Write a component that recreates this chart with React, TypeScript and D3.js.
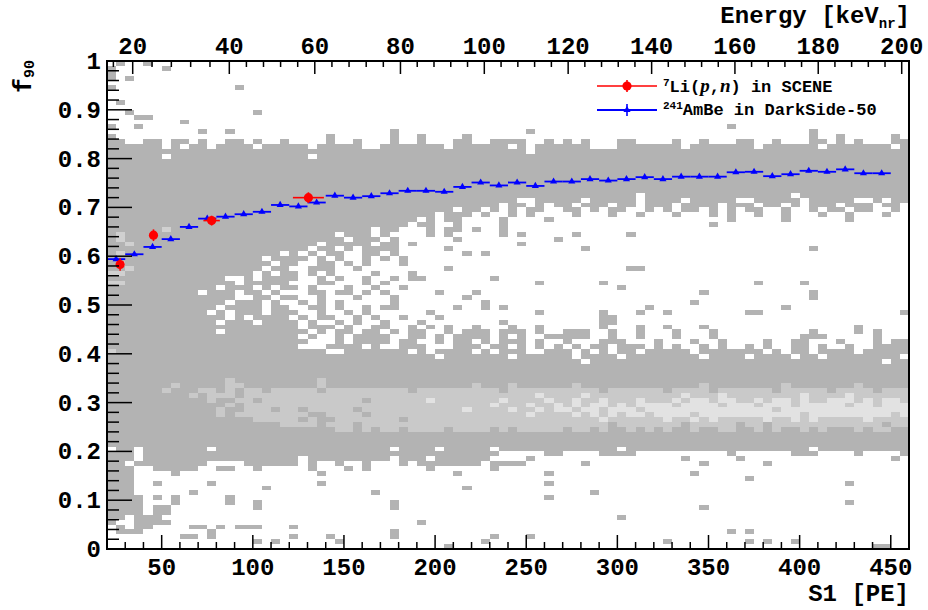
import React from 'react';
import * as d3 from 'd3';

// 2D histogram: S1 bins of 5 PE from 20 to 460 (88 columns), f90 bins of 0.01 (100 rows).
// Rows listed from top (f90 0.99-1.00) to bottom (0.00-0.01); groups of 10 columns separated by spaces.
// '.' empty, '#' dark gray, '+' medium gray, '-' light gray, 'o' pale cell
const histRows: string[] = [
  ".#..#",
  "#.....#",
  "#",
  "#.#",
  "",
  "#......... ....#",
  "",
  "",
  ".#",
  "",
  "..#....... ......#",
  "...##",
  "........#",
  "#..#...... .......... .......... .......... .......... .......... ........#",
  ".......... #..#...... .......... .#........ ......#... .......... .......... .......#",
  "#......... .......... ....#..... .#..#....# .......... .......... .......... .......#.. #.....#",
  "##..##.##. #..##.#..# ....#..#.. .#..#...## ..####..#. #.#...##.. ..#..#...# #..#...##. #.#...##",
  "######.#.# #.####.### ##.#####.. #######.## ####.#.### ###...#### ###.###### #.######.# ######.#",
  "########## ########## ########## ########## ######.### ########## ########## ########## ########",
  "######.### ########## ##.####### ########## ########## ########## ########## ########## ########",
  "########## ########## ########## ########## ########## ########## ########## ########## ########",
  "########## ########## ########## ########## ########## ########## ########## ########## ########",
  "########## ########## ########## ########## ########## ########## ########## ########## ########",
  "########## ########## ########## ########## ########## ########## ########## ########## ########",
  "########## ########## ########## ########## ########## ########## ########## ########## ########",
  "########## ########## ########## ########## ########## ########## ########## ########## ########",
  "########## ########## ########## ########## ########## ########## ########## ########## ########",
  "########## ########## ########## ########## ########## ########.# ########## #####.#### ########",
  "########## ########## ########## ########## #####..### ##.#####.# ###.#####. .#####.### ##..#.##",
  "########## ########## ########## ########## ###.##.#.# #.###.##.# ##.####.## #.##.#.### .###.##.",
  "########## ########## ########## ########.# #.#.#.##.. ##.#.##..# .#.##.#.#. ##..#..#.# #.##..#.",
  "########## ########## ########## ######.### .#..#.#... .#...#..#. ..#...#.#. .#..#...#. .#...#..",
  "########## ########## ########## ####.#.##. ...#....#. .......... ........#. ....#..... .#......",
  "########## ########## ########## ###.##..#. ...#...... .......... ......#... .......... ........",
  "######o### ########## #########. ##...#.##. #..#...... .......... .......... .......... ........",
  "#o######## ########## #####.###. #....#.#.. ...#.#.... .#.....#.. .......... .......... ........",
  "#o######## ########## ######.### .#......#. .........# .......... .......... .......... ........",
  "##o####### ########## ###.#####. ##.#...... .....#.... .......... .......... .......... ........",
  "########## ########## ##.##.#.## ##.....#.. .......... ..#....... .......... .......#.. ........",
  "#o######## #########. #.#.##..## .#.......# .#........ .......... .......... .......... ........",
  "########## #######.## ##.#.#..#. #.#....... .......... .......... .......... .......... ........",
  "#o######## ########.# #..##.#.#. ..#....... .......... .......... .......... .......... ........",
  "##o####### #######.## ..###..#.. .......#.. .......... .......##. .......... .......... ........",
  "oo######## ######.#.# #.#.#....# ...#...... .......... .......... .......... .......... ........",
  "########## ###..#.### #..#.#..#. .#.##..... ..#....... .......... .......... .......... ........",
  "oo######## ####.##### ...##...#. #......... .......#.. ....#..... .......... .#....#... ........",
  "########## ##.###.#.# #.#...#..# ..#....... .......... ......#... .......... .......... ........",
  "########## .###.##.#. ..##.##.#. #.....#... #......... .......... .....#.... .......#.. ........",
  "########## ####..##.# #..#...#.. .#.......# .......... .......... .......... .......#.. ........",
  "########## ###.###.#. .#.#.#.... .#........ .#........ .......... ....#..... .......... ........",
  "########## ##.####.## ..##.#..#. ##......#. .#.#...... .........# .......... ....#..... ........",
  "########## #.#.###.## #..#..#.#. .....#.... .......#.. ....#...#. .#........ ##........ .......#",
  "########## ###.#.#### .#.##..#.# ..#...#... .......... ....##.... .......... .......... ........",
  "########## ##.###.### #.#..#.#.. #...#..... ...#...... ....##.... .......... .......... ........",
  "########## ########## #.###.#..# #..#.#.#.. #...#..#.. ....#...#. .#...#.... .......... ..#.....",
  "########## ##.####### ##.#.##.## .#.##..#.# ##.###.#.. ###..#..#. ..#...#... .......#.. ..#.#...",
  "########## ########## #.#..#.### #..##.#.## ##.#.#..## ###..#..#. ..#...#... ......###. ....#...",
  "########## ########## ##...#.### #.##..#.## .#.###.#.. #...###... #...#..#.. ..#..##... #...#.##",
  "########## ########## #...####.# ..###...## #.##.#.#.# .#.##.###. #.#..#.#.. #.#..##.#. .#..####",
  "o######### ########## ####..#### ###.#.#### .#.###..## #.#.#.##.# ####.##### ##.#.##.## ##.#####",
  "########## ########## ########## ######.### ####.##### #.####.### #####.#### .####.##.# #######.",
  "########## ########## ########## ########## ########## ##.####### ########## ########## #####.##",
  "########## ########## ########## ########## ########## ########## ########## ########## ########",
  "########## ########## ########## ########## ########## ########## ########## ########## ########",
  "########## ########## ########## ########## ########## ########## ########## ########## ########",
  "########## ###+###### ###+###### ########## ########## ########## ########## ########## ########",
  "#######+## ###++##### ###+###### ########## +###+##### #+######## #####+#### ####+##### ##+#####",
  "######+### ++#+#++#++ +++#++++++ +++#++++++ +++#++++++ ++++#+++++ +#++++#+++ +++#+++++# ++++#+++",
  "#########+ #+++#+++++ ++++++++++ ++++++++++ +++++++-++ ++-+++++++ +++-+++-++ ++++++-+++ +-++++++",
  "########## #+##++#+++ ++++++++#+ +++++-++++ +++-++++-+ +-++-+++-+ ++-+--+--+ +-+--+-++- --+-+--+",
  "########## ###+#+++++ ++++++++++ ++++++++++ ++-+++-++- +-+--+-+-- --+----+-- -+---+---- -+--+---",
  "########## ##+##+++#+ +#+++++#++ +++++++++- ++++-++-+- -+--+---+- ---------- ---+------ --------",
  "########## ##+#++++++ ++##++++#+ ++++++++++ ++++++-+++ +-+-+-+--+ ----+----- ------+--- ------+-",
  "########## ######++++ +#+##+++++ ++#+++++++ ++++++++++ ++++-+++++ +-++-+-+++ ++-++-+-++ +++-++++",
  "########## #########+ +++#+++#++ ++++++++++ ++++++++++ +++++#++++ +++#+++++# ++#+++++++ +++++#++",
  "########## ########## #####++#+# ++#++++#++ ++#+#+++++ #++#+##+#+ #+##+##++# #+#+##+#+# ##+#++##",
  "########## ########## ########## ########## ########## ########## ########## ########## ########",
  "########## ########## ########## ########## ########## ########## ########## ########## ########",
  "########## ########## ########## ########## ########## ########## ########## ########## ########",
  ".##.###### #.######## ########## #.####.### ##.####### ######.### ########## #######.## ########",
  "###.###### ########## ########## ########## ###.....## ....####.. ........#. .....###.. ..#....#",
  "###.###### ########## #.######## #.###.#### ##....#... .......... ...#.....# .......... ......#.",
  "##.####### #....##### #.#..#..#. ..#.###### #.####.... ..#....... .....#.... ..#....... ........",
  "###..##### ..##..#... ..#...#.#. .....#.... ..#....... .......... .......... .......... ........",
  "###....#.. .......... ...#...... ........#. ........#. .......... ....#..... .......... ........",
  "###....... .......... .......... .......... .......... .......... .......... #......... ........",
  "###..#.... .#........ ...#...... .......... ........#. .......... .......... .......... .#......",
  "###....... .......#.. .......... .........#",
  "###......# .......... .........# .......... .......... ...#......",
  "####.#.#.. ...#...... .......... .......... ........#.",
  "####...#.. ...#..#... .......... .#........ .......... .......... .......... .......... .#......",
  "####.##... ......#... .......... .#........ .......... .......... .....#....",
  "####.##...",
  "##.###.... .......... .......... .......... .......... ......#...",
  "#..####... .......... .......... ....#.....",
  ".#.##....# #.#.###... #.........",
  ".###...... .#........ .......... .#........ .......... .......... ........#. #.........",
  "........## .#........ #...#..... .#........ ..#...#...",
  ".......... ......#.#. .....#.... .......... .#........ .......... .#........ #.#..#....",
  ".......... .......... .......... .......#.. .......... .......... .......... .......... ....##..",
];

// AmBe in DarkSide-50 (bin centres in S1 [PE], mean f90)
const ambeS1 = [25, 35, 45, 55, 65, 75, 85, 95, 105, 115, 125, 135, 145, 155, 165, 175, 185, 195, 205, 215, 225, 235, 245, 255, 265, 275, 285, 295, 305, 315, 325, 335, 345, 355, 365, 375, 385, 395, 405, 415, 425, 435, 445];
const ambeF90 = [0.594, 0.604, 0.619, 0.635, 0.660, 0.677, 0.681, 0.686, 0.691, 0.705, 0.702, 0.710, 0.724, 0.720, 0.723, 0.729, 0.734, 0.734, 0.732, 0.742, 0.751, 0.745, 0.751, 0.744, 0.753, 0.753, 0.758, 0.755, 0.758, 0.762, 0.758, 0.763, 0.763, 0.763, 0.772, 0.773, 0.764, 0.768, 0.775, 0.773, 0.778, 0.770, 0.770];
const ambeS1Err = 5;
const ambeF90Err = 0.003;

// 7Li(p,n) in SCENE
const sceneS1 = [27.2, 45.5, 77.4, 130.5];
const sceneF90 = [0.583, 0.643, 0.673, 0.720];
const sceneS1Err = [1.5, 2, 4.5, 8.5];
const sceneF90Err = [0.013, 0.012, 0.01, 0.011];

// top axis: nuclear-recoil energy labels and their S1 equivalents
const energyTicks = [20, 40, 60, 80, 100, 120, 140, 160, 180, 200];
const energyTickS1 = [34.1, 87.1, 134, 181, 227, 273, 318.8, 364.5, 410.2, 456];

const s1Ticks = [50, 100, 150, 200, 250, 300, 350, 400, 450];
const f90Ticks = [0, 0.1, 0.2, 0.3, 0.4, 0.5, 0.6, 0.7, 0.8, 0.9, 1];
const f90TickLabels = ['0', '0.1', '0.2', '0.3', '0.4', '0.5', '0.6', '0.7', '0.8', '0.9', '1'];

const NCOL = 88;
const S1_MIN = 20;
const S1_MAX = 460;
const BIN_S1 = 5;
const BIN_F90 = 0.01;

const cellColor: Record<string, string> = {
  '#': '#b3b3b3',
  '+': '#c9c9c9',
  '-': '#e2e2e2',
  'o': '#d0d0d0',
};

const FONT = "'Liberation Mono', 'DejaVu Sans Mono', monospace";

function parseRow(row: string): string {
  const groups = row.split(' ');
  const s = groups.map((g) => g.padEnd(10, '.').slice(0, 10)).join('');
  return s.padEnd(NCOL, '.').slice(0, NCOL);
}

export default function App() {
  const W = 928;
  const H = 610;
  const x = d3.scaleLinear().domain([S1_MIN, S1_MAX]).range([107, 909]);
  const y = d3.scaleLinear().domain([0, 1]).range([549, 61]);
  const eToS1 = d3.scaleLinear().domain(energyTicks).range(energyTickS1);

  const cells: React.ReactElement[] = [];
  histRows.forEach((row, r) => {
    const s = parseRow(row);
    const f0 = (histRows.length - 1 - r) * BIN_F90;
    for (let c = 0; c < NCOL; c++) {
      const ch = s[c];
      if (!cellColor[ch]) continue;
      const s0 = S1_MIN + c * BIN_S1;
      const x0 = x(s0);
      const x1 = x(s0 + BIN_S1);
      const y1 = y(f0 + BIN_F90);
      const y0 = y(f0);
      cells.push(
        <rect key={`c${r}-${c}`} x={x0} y={y1} width={x1 - x0} height={y0 - y1} fill={cellColor[ch]} />
      );
    }
  });

  const s1Minor = d3.range(30, 460, 10).filter((v) => v % 50 !== 0);
  const f90Minor = d3.range(1, 50).filter((k) => k % 5 !== 0).map((k) => k * 0.02);
  const eMinor = d3.range(16, 201, 4).filter((e) => e % 20 !== 0);

  const tri = d3.symbol().type(d3.symbolTriangle).size(22)() as string;
  const blue = '#0000ff';
  const red = '#ff0000';

  return (
    <svg width={W} height={H} style={{ position: 'absolute', left: 0, top: 0, background: '#ffffff' }} fontFamily={FONT}>
      <rect x={0} y={0} width={W} height={H} fill="#ffffff" />
      <g shapeRendering="crispEdges">{cells}</g>

      {/* AmBe points */}
      <g stroke={blue} strokeWidth={1.8} fill="none">
        {ambeS1.map((s, i) => (
          <g key={`a${i}`}>
            <line x1={x(s - ambeS1Err)} x2={x(s + ambeS1Err)} y1={y(ambeF90[i])} y2={y(ambeF90[i])} />
            <line x1={x(s)} x2={x(s)} y1={y(ambeF90[i] - ambeF90Err)} y2={y(ambeF90[i] + ambeF90Err)} />
          </g>
        ))}
      </g>
      <g fill={blue}>
        {ambeS1.map((s, i) => (
          <path key={`at${i}`} d={tri} transform={`translate(${x(s)},${y(ambeF90[i])})`} />
        ))}
      </g>

      {/* SCENE points */}
      <g stroke={red} strokeWidth={1.6}>
        {sceneS1.map((s, i) => (
          <g key={`s${i}`}>
            <line x1={x(s - sceneS1Err[i])} x2={x(s + sceneS1Err[i])} y1={y(sceneF90[i])} y2={y(sceneF90[i])} />
            <line x1={x(s)} x2={x(s)} y1={y(sceneF90[i] - sceneF90Err[i])} y2={y(sceneF90[i] + sceneF90Err[i])} />
          </g>
        ))}
      </g>
      <g fill={red}>
        {sceneS1.map((s, i) => (
          <circle key={`sc${i}`} cx={x(s)} cy={y(sceneF90[i])} r={4.6} />
        ))}
      </g>

      {/* frame */}
      <rect x={107} y={61} width={802} height={488} fill="none" stroke="#000" strokeWidth={2} />

      {/* axis ticks */}
      <g stroke="#000" strokeWidth={1.5}>
        {s1Ticks.map((t) => (
          <line key={`bt${t}`} x1={x(t)} x2={x(t)} y1={549} y2={535} />
        ))}
        {s1Minor.map((t) => (
          <line key={`bm${t}`} x1={x(t)} x2={x(t)} y1={549} y2={542} />
        ))}
        {f90Ticks.map((t) => (
          <line key={`lt${t}`} x1={107} x2={132} y1={y(t)} y2={y(t)} />
        ))}
        {f90Minor.map((t) => (
          <line key={`lm${t}`} x1={107} x2={119} y1={y(t)} y2={y(t)} />
        ))}
        {energyTicks.map((e) => (
          <line key={`et${e}`} x1={x(eToS1(e))} x2={x(eToS1(e))} y1={61} y2={74} />
        ))}
        {eMinor.map((e) => (
          <line key={`em${e}`} x1={x(eToS1(e))} x2={x(eToS1(e))} y1={61} y2={67} />
        ))}
      </g>

      {/* tick labels */}
      <g fontSize={24} fontWeight="bold" fill="#000">
        {s1Ticks.map((t) => (
          <text key={`bl${t}`} x={x(t)} y={575} textAnchor="middle">{t}</text>
        ))}
        {f90Ticks.map((t, i) => (
          <text key={`ll${t}`} x={101} y={y(t) + 8} textAnchor="end">{f90TickLabels[i]}</text>
        ))}
        {energyTicks.map((e) => (
          <text key={`el${e}`} x={x(eToS1(e))} y={54} textAnchor="middle">{e}</text>
        ))}
      </g>

      {/* axis titles */}
      <text x={909} y={601} textAnchor="end" fontSize={24} fontWeight="bold">S1 [PE]</text>
      <text x={910} y={23} textAnchor="end" fontSize={24} fontWeight="bold">
        Energy [keV<tspan fontSize={14} dy={5}>nr</tspan><tspan fontSize={24} dy={-5}>]</tspan>
      </text>
      <text transform="translate(31,60) rotate(-90)" textAnchor="end" fontSize={25} fontWeight="bold">
        f<tspan fontSize={15} dy={3}>90</tspan>
      </text>

      {/* legend */}
      <g>
        <line x1={597} x2={657} y1={86} y2={86} stroke={red} strokeWidth={1.6} />
        <line x1={627} x2={627} y1={80} y2={92} stroke={red} strokeWidth={1.6} />
        <circle cx={627} cy={86} r={4.6} fill={red} />
        <text x={663} y={92} fontSize={17} fontWeight="bold">
          <tspan fontSize={11} dy={-6}>7</tspan>
          <tspan dy={6}>Li(</tspan>
          <tspan fontFamily="'Liberation Serif', serif" fontStyle="italic" fontSize={19}>p</tspan>
          <tspan>,</tspan>
          <tspan fontFamily="'Liberation Serif', serif" fontStyle="italic" fontSize={19}>n</tspan>
          <tspan>) in SCENE</tspan>
        </text>
        <line x1={597} x2={657} y1={110} y2={110} stroke={blue} strokeWidth={1.8} />
        <line x1={627} x2={627} y1={104} y2={116} stroke={blue} strokeWidth={1.6} />
        <path d={tri} transform="translate(627,110)" fill={blue} />
        <text x={663} y={115} fontSize={17} fontWeight="bold">
          <tspan fontSize={11} dy={-6}>241</tspan>
          <tspan dy={6}>AmBe in DarkSide-50</tspan>
        </text>
      </g>
    </svg>
  );
}
